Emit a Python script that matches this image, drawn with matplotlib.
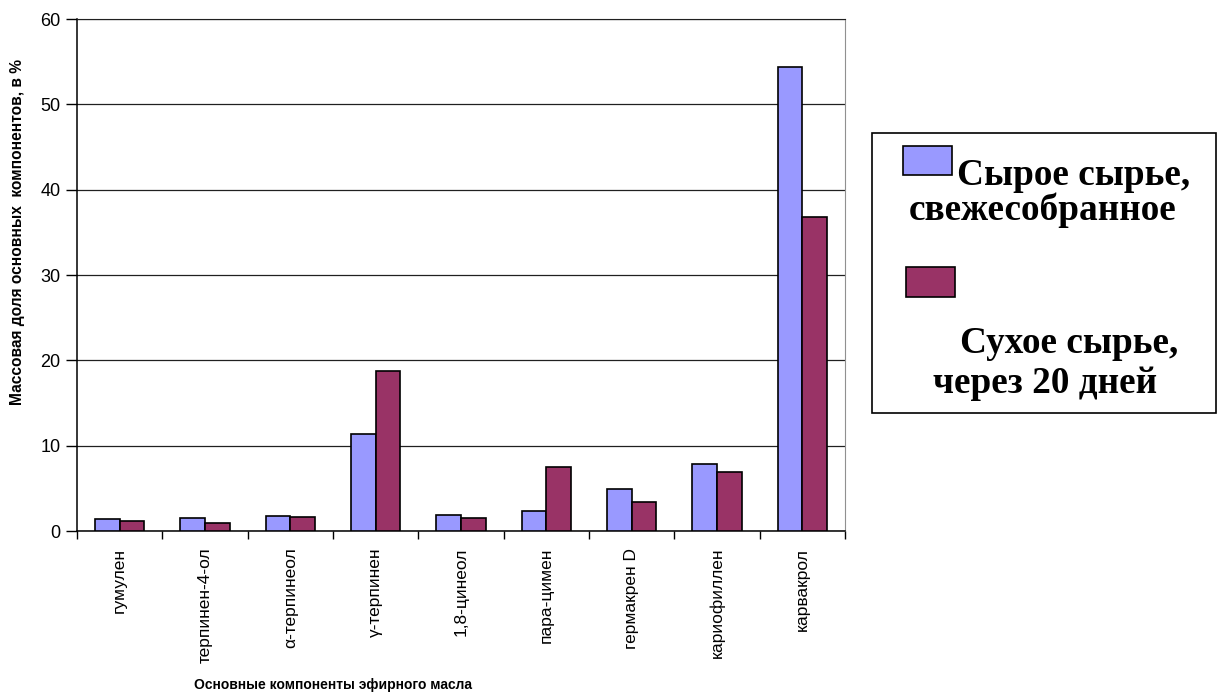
import matplotlib.pyplot as plt
import numpy as np
from matplotlib.patches import Rectangle

plt.rcParams['font.family'] = ['Liberation Sans', 'DejaVu Sans']

components = ["гумулен", "терпинен-4-ол", "α-терпинеол", "γ-терпинен", "1,8-цинеол",
              "пара-цимен", "гермакрен D", "кариофиллен", "карвакрол"]
fresh = [1.45, 1.55, 1.7, 11.35, 1.9, 2.35, 4.9, 7.9, 54.4]
dry = [1.15, 0.9, 1.6, 18.75, 1.5, 7.5, 3.35, 6.95, 36.85]
series_names = ["Сырое сырье,\nсвежесобранное", "Сухое сырье,\nчерез 20 дней"]
yticks = [0, 10, 20, 30, 40, 50, 60]

W, H = 1218, 695
fig = plt.figure(figsize=(W / 100, H / 100), dpi=100)
ax = fig.add_axes([77 / W, 1 - 531 / H, (845 - 77) / W, (531 - 19) / H])

x = np.arange(len(components))
bw = 0.29
ax.bar(x - bw / 2, fresh, bw, color="#9999FF", edgecolor="black", linewidth=1.2, zorder=3)
ax.bar(x + bw / 2, dry, bw, color="#993366", edgecolor="black", linewidth=1.2, zorder=3)

ax.set_xlim(-0.5, len(components) - 0.5)
ax.set_ylim(0, 60)
ax.set_yticks(yticks)
ax.set_yticklabels([str(t) for t in yticks], fontsize=13)
ax.yaxis.grid(True, color="#202020", linewidth=0.9, zorder=0)
ax.set_xticks(x)
ax.set_xticklabels(components, rotation=90, fontsize=12.5, va="top")
ax.set_xticks(np.arange(len(components) + 1) - 0.5, minor=True)
ax.tick_params(axis="x", which="major", length=0, pad=12)
ax.tick_params(axis="x", which="minor", length=6, width=1, direction="out")
ax.tick_params(axis="y", length=8, width=1, direction="out", pad=4)
ax.spines["top"].set_color("#202020")
ax.spines["right"].set_color("#909090")
for s in ["left", "bottom"]:
    ax.spines[s].set_linewidth(1.1)

fig.text(333 / W, 1 - 685 / H, "Основные компоненты эфирного масла",
         ha="center", va="center", fontsize=10, fontweight="bold")
fig.text(18 / W, 1 - 232 / H, "Массовая доля основных  компонентов, в %",
         ha="center", va="center", rotation=90, fontsize=11.2, fontweight="bold")

# legend box
fig.patches.append(Rectangle((872 / W, 1 - 413 / H), (1216 - 872) / W, (413 - 133) / H,
                             transform=fig.transFigure, facecolor="white",
                             edgecolor="black", linewidth=1.2))
fig.patches.append(Rectangle((903 / W, 1 - 175 / H), 49 / W, 29 / H,
                             transform=fig.transFigure, facecolor="#9999FF",
                             edgecolor="black", linewidth=1.2))
fig.patches.append(Rectangle((906 / W, 1 - 297 / H), 49 / W, 30 / H,
                             transform=fig.transFigure, facecolor="#993366",
                             edgecolor="black", linewidth=1.2))
lf = dict(family="Liberation Serif", fontweight="bold", fontsize=26.8, va="baseline")
l1, l2 = series_names[0].split("\n")
d1, d2 = series_names[1].split("\n")
fig.text(957 / W, 1 - 185 / H, l1, ha="left", **lf)
fig.text(1043 / W, 1 - 220 / H, l2, ha="center", **lf)
fig.text(1069 / W, 1 - 353 / H, d1, ha="center", **lf)
fig.text(1045 / W, 1 - 393 / H, d2, ha="center", **lf)

fig.savefig("out.png", dpi=100)
